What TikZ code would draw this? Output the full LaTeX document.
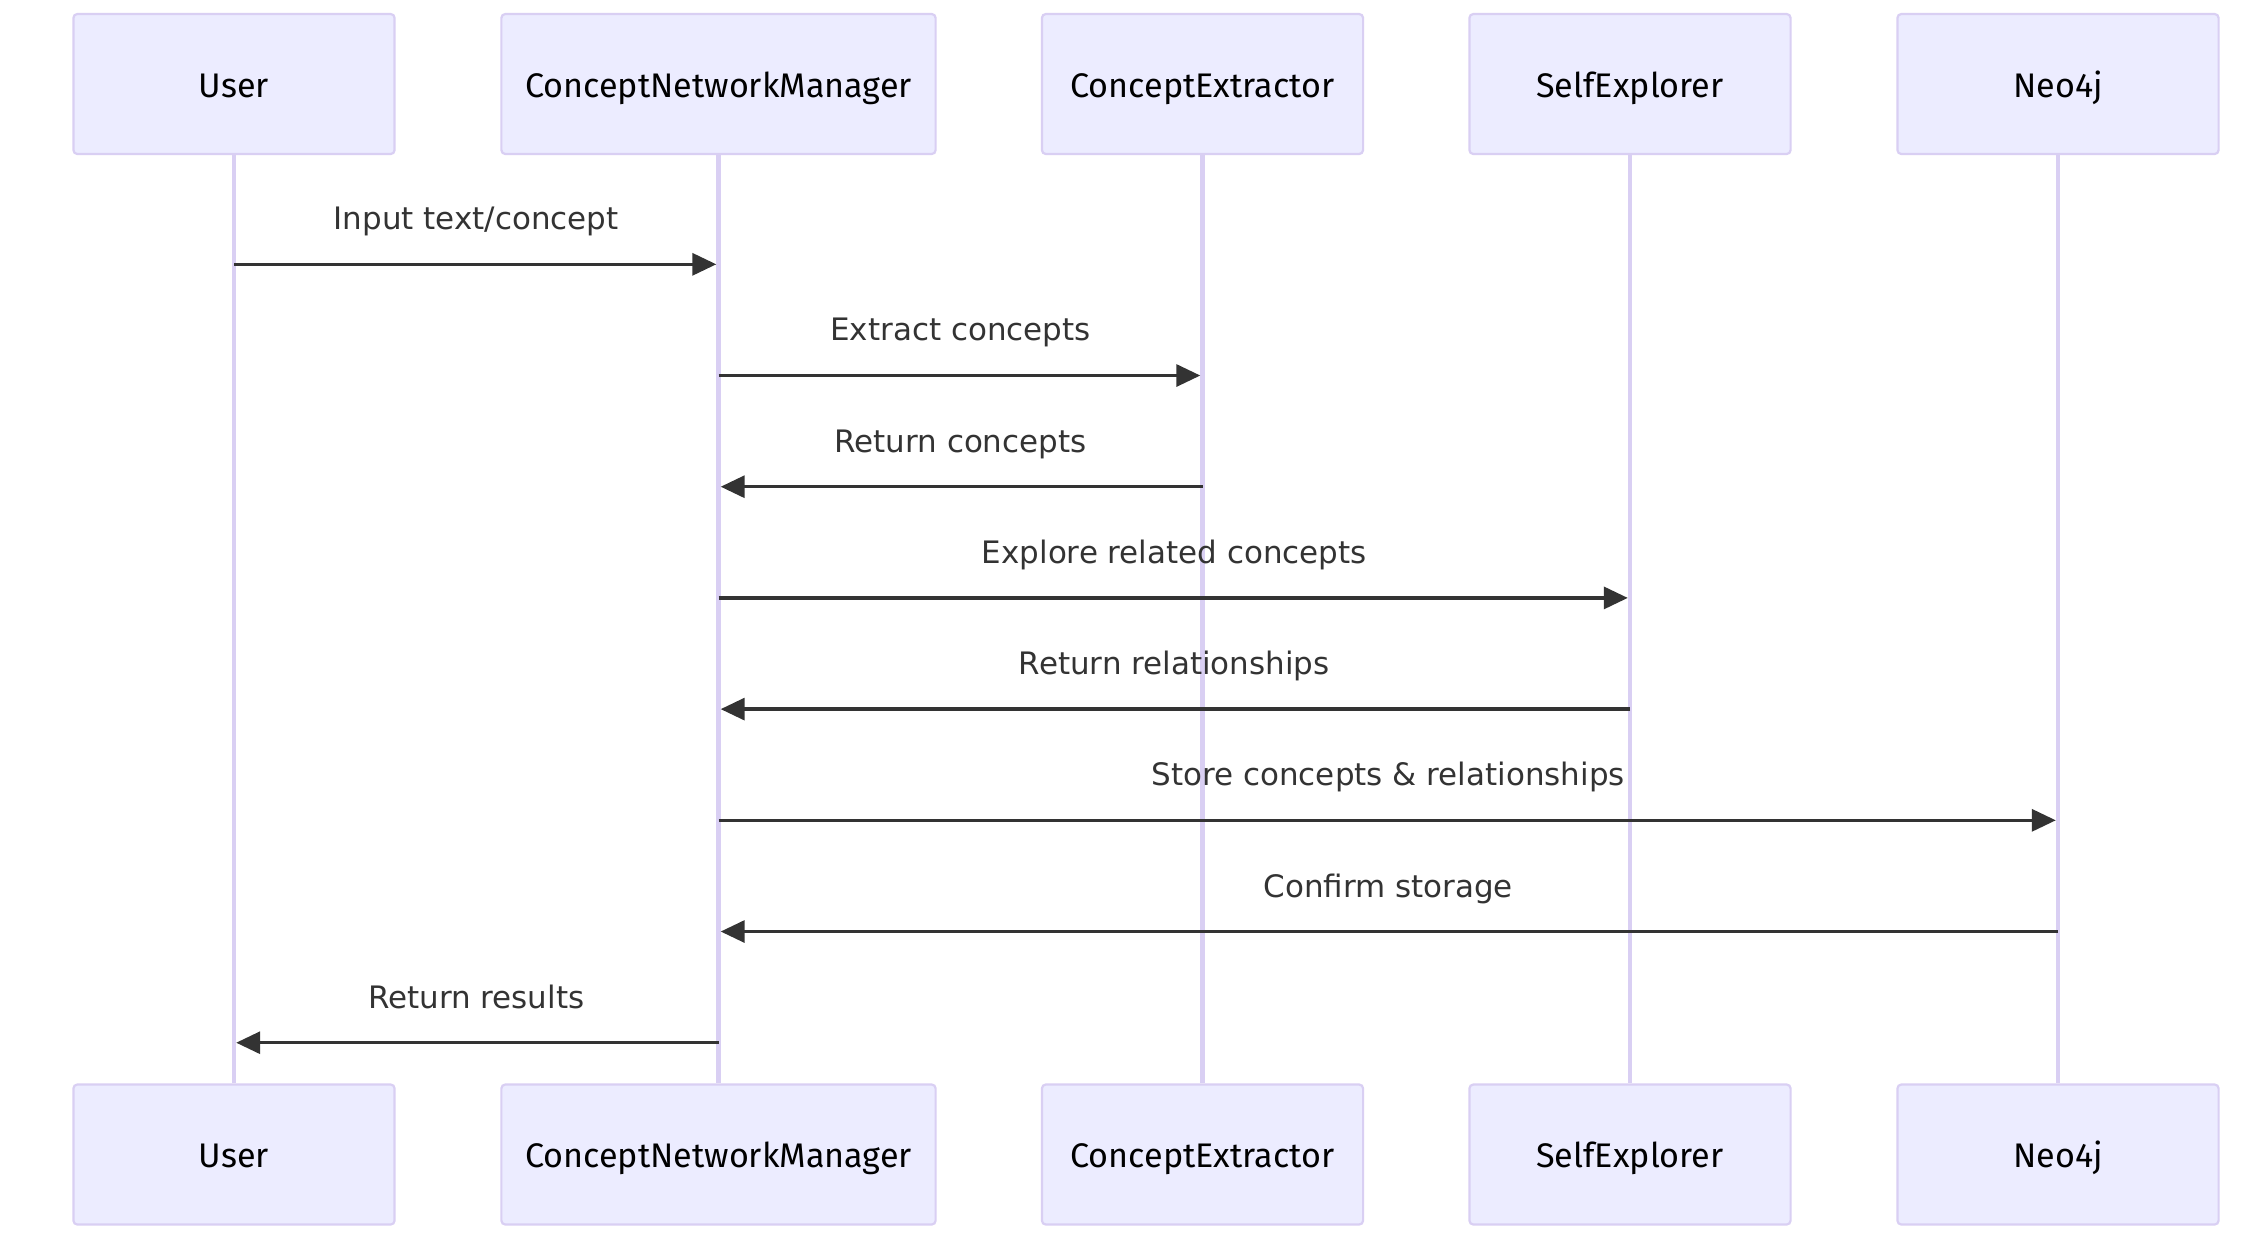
\documentclass[tikz,border=0pt]{standalone}
\usepackage{fontspec}
\setmainfont{DejaVu Sans}
\newfontfamily\actorfont{Fira Sans}
\usetikzlibrary{arrows.meta,calc}
\definecolor{actfill}{HTML}{ECECFF}
\definecolor{actline}{HTML}{D9CFF3}
\definecolor{msgcol}{HTML}{333333}
\begin{document}
\begin{tikzpicture}[x=0.01cm,y=-0.01cm,
  actor/.style={draw=actline, line width=0.022cm, fill=actfill, rounded corners=0.04cm,
    minimum height=1.4cm, minimum width=3.21cm, inner sep=0pt,
    text height=0.26cm, text depth=0cm, font=\actorfont\fontsize{9.7pt}{12pt}\selectfont, text=black},
  wide/.style={minimum width=4.34cm},
  life/.style={draw=actline, line width=0.045cm},
  msg/.style={draw=msgcol, line width=0.033cm, -{Triangle[length=0.24cm,width=0.22cm]}, shorten >=0.022cm},
  lbl/.style={anchor=base, yshift=0.345cm, inner sep=0pt, text=msgcol, font=\fontsize{8.8pt}{10pt}\selectfont}]
\useasboundingbox (0,0) rectangle (2248,1235);
\fill[white] (0,0) rectangle (2248,1235);
% actors top
\node[actor] (uT) at (234,84) {User};
\node[actor,wide] (cT) at (718.5,84) {ConceptNetworkManager};
\node[actor] (eT) at (1202.5,84) {ConceptExtractor};
\node[actor] (sT) at (1630,84) {SelfExplorer};
\node[actor] (nT) at (2058,84) {Neo4j};
% actors bottom
\node[actor] (uB) at (234,1154.5) {User};
\node[actor,wide] (cB) at (718.5,1154.5) {ConceptNetworkManager};
\node[actor] (eB) at (1202.5,1154.5) {ConceptExtractor};
\node[actor] (sB) at (1630,1154.5) {SelfExplorer};
\node[actor] (nB) at (2058,1154.5) {Neo4j};
% lifelines
\draw[life] (uT.south) -- (uB.north);
\draw[life] (cT.south) -- (cB.north);
\draw[life] (eT.south) -- (eB.north);
\draw[life] (sT.south) -- (sB.north);
\draw[life] (nT.south) -- (nB.north);
% message rows
\coordinate (m1) at (0,264.3);
\coordinate (m2) at (0,375.5);
\coordinate (m3) at (0,486.7);
\coordinate (m4) at (0,597.9);
\coordinate (m5) at (0,709.1);
\coordinate (m6) at (0,820.3);
\coordinate (m7) at (0,931.5);
\coordinate (m8) at (0,1042.7);
% messages
\draw[msg] (uT |- m1) -- (cT |- m1);
\node[lbl] at ($(uT |- m1)!0.5!(cT |- m1)$) {Input text/concept};
\draw[msg] (cT |- m2) -- (eT |- m2);
\node[lbl] at ($(cT |- m2)!0.5!(eT |- m2)$) {Extract concepts};
\draw[msg] (eT |- m3) -- (cT |- m3);
\node[lbl] at ($(cT |- m3)!0.5!(eT |- m3)$) {Return concepts};
\draw[msg] (cT |- m4) -- (sT |- m4);
\node[lbl] at ($(cT |- m4)!0.5!(sT |- m4)$) {Explore related concepts};
\draw[msg] (sT |- m5) -- (cT |- m5);
\node[lbl] at ($(cT |- m5)!0.5!(sT |- m5)$) {Return relationships};
\draw[msg] (cT |- m6) -- (nT |- m6);
\node[lbl] at ($(cT |- m6)!0.5!(nT |- m6)$) {Store concepts \& relationships};
\draw[msg] (nT |- m7) -- (cT |- m7);
\node[lbl] at ($(cT |- m7)!0.5!(nT |- m7)$) {Confirm storage};
\draw[msg] (cT |- m8) -- (uT |- m8);
\node[lbl] at ($(uT |- m8)!0.5!(cT |- m8)$) {Return results};
\end{tikzpicture}
\end{document}
